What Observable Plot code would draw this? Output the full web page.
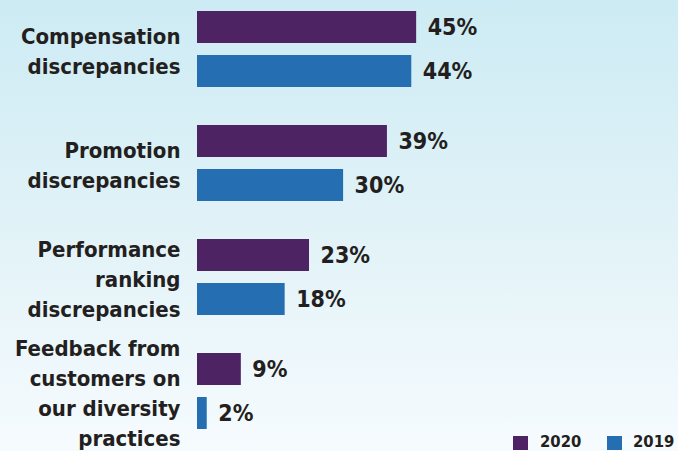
<!DOCTYPE html>
<html>
<head>
<meta charset="utf-8">
<script src="https://cdn.jsdelivr.net/npm/d3@7"></script>
<script src="https://cdn.jsdelivr.net/npm/@observablehq/plot@0.6"></script>
<style>
  html, body { margin: 0; padding: 0; }
  #wrap {
    position: relative; width: 678px; height: 451px; overflow: hidden;
    background: linear-gradient(to bottom, #cdebf4 0%, #e3f3f8 55%, #f6fbfe 100%);
    font-family: 'DejaVu Sans Condensed', 'DejaVu Sans', sans-serif;
    font-stretch: condensed; font-weight: bold; color: #231f20;
  }
  #legend { position: absolute; left: 0; top: 0; width: 678px; height: 451px; pointer-events: none; }
  #legend .sw { position: absolute; top: 436px; width: 15px; height: 14px; }
  #legend .lab { position: absolute; top: 433px; font-size: 16.5px; line-height: 18px; white-space: nowrap; }
</style>
</head>
<body>
<div id="wrap">
  <div id="chart"></div>
  <div id="legend"></div>
</div>
<script>
const categories = [
  "Compensation\ndiscrepancies",
  "Promotion\ndiscrepancies",
  "Performance\nranking\ndiscrepancies",
  "Feedback from\ncustomers on\nour diversity\npractices"
];
const years = ["2020", "2019"];
const values2020 = [45, 39, 23, 9];
const values2019 = [44, 30, 18, 2];
const colors = ["#4e2363", "#246eb1"];

const data = categories.flatMap((c, i) => [
  {category: c, year: "2020", value: values2020[i]},
  {category: c, year: "2019", value: values2019[i]}
]);

const font = "'DejaVu Sans Condensed', 'DejaVu Sans', sans-serif";

const chart = Plot.plot({
  width: 678,
  height: 451,
  marginTop: 0,
  marginBottom: 11.5,
  marginLeft: 197,
  marginRight: 0,
  style: {background: "transparent", fontFamily: font, fontStretch: "condensed", color: "#231f20"},
  x: {domain: [0, 100], range: [197, 684], axis: null},
  fy: {domain: categories, paddingInner: 0.3, paddingOuter: 0.076, axis: null, label: null},
  y: {domain: years, paddingInner: 0.273, paddingOuter: 0.045, axis: null, label: null},
  color: {domain: years, range: colors},
  marks: [
    Plot.barX(data, {fy: "category", y: "year", x: "value", fill: "year"}),
    Plot.text(data, {
      fy: "category", y: "year", x: "value",
      text: d => d.value + "%",
      textAnchor: "start", dx: 11,
      fontSize: 23, fontWeight: "bold", fontFamily: font, fill: "#231f20"
    }),
    Plot.text(categories, {
      fy: d => d, text: d => d,
      frameAnchor: "left", textAnchor: "end", dx: -17,
      lineHeight: 1.36,
      fontSize: 22, fontWeight: "bold", fontFamily: font, fill: "#231f20"
    })
  ]
});
document.getElementById("chart").appendChild(chart);

const legend = document.getElementById("legend");
const swatchX = [513, 607];
const labelX = [540, 633];
years.forEach((y, i) => {
  const sw = document.createElement("div");
  sw.className = "sw";
  sw.style.left = swatchX[i] + "px";
  sw.style.background = colors[i];
  const lab = document.createElement("div");
  lab.className = "lab";
  lab.style.left = labelX[i] + "px";
  lab.textContent = y;
  legend.appendChild(sw);
  legend.appendChild(lab);
});
</script>
</body>
</html>
